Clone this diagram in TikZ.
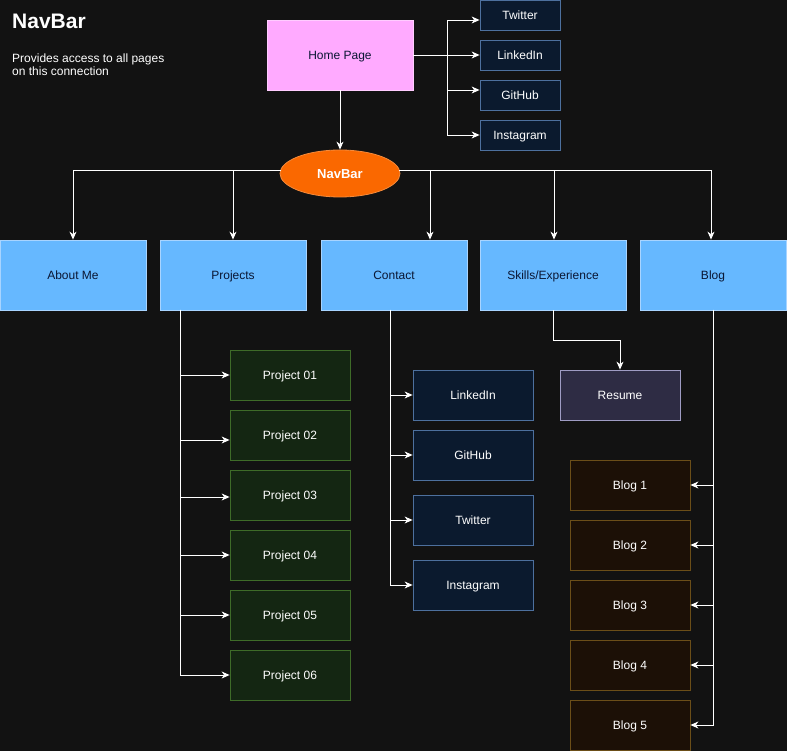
\documentclass[tikz,border=0pt]{standalone}
\usepackage{fontspec}
\setmainfont{Liberation Sans}
\usetikzlibrary{arrows.meta,shapes.geometric}
\definecolor{bg}{HTML}{121212}
\definecolor{pinkf}{HTML}{FFAAFF}
\definecolor{pinks}{HTML}{FFCCFF}
\definecolor{bluef}{HTML}{66B8FF}
\definecolor{blues}{HTML}{A8D4FF}
\definecolor{navyf}{HTML}{0B1A2E}
\definecolor{navys}{HTML}{4D709E}
\definecolor{greenf}{HTML}{142612}
\definecolor{greens}{HTML}{3E6B28}
\definecolor{brownf}{HTML}{1C1006}
\definecolor{browns}{HTML}{6B4E18}
\definecolor{purpf}{HTML}{2E2C44}
\definecolor{purps}{HTML}{9F9CC4}
\definecolor{orangef}{HTML}{FA6800}
\definecolor{oranges}{HTML}{F58A3A}
\definecolor{darktxt}{HTML}{0A1633}
\tikzset{
  box/.style={draw, line width=0.8pt, minimum width=#1, inner sep=0pt, text height=8.6pt, text depth=0pt, font=\fontsize{12}{14}\selectfont, text=white},
  box/.default=120pt,
  pinkbox/.style={box=146pt, minimum height=70pt, fill=pinkf, draw=pinks, text=darktxt},
  bluebox/.style={box=146pt, minimum height=70pt, fill=bluef, draw=blues, text=darktxt},
  smallnavy/.style={box=80pt, minimum height=30pt, fill=navyf, draw=navys},
  navy/.style={box=120pt, minimum height=50pt, fill=navyf, draw=navys},
  proj/.style={box=120pt, minimum height=50pt, fill=greenf, draw=greens},
  blogbox/.style={box=120pt, minimum height=50pt, fill=brownf, draw=browns},
  resbox/.style={box=120pt, minimum height=50pt, fill=purpf, draw=purps},
  conn/.style={draw=white, line width=0.9pt, -{Stealth[length=8pt,width=7pt,inset=2.5pt]}},
  line/.style={draw=white, line width=0.9pt},
}
\begin{document}
\begin{tikzpicture}[x=1pt,y=-1pt]
\fill[bg] (0,0) rectangle (787,751);
\useasboundingbox (0,0) rectangle (787,751);

% title
\node[anchor=west, inner sep=0pt, text=white, font=\bfseries\fontsize{21}{24}\selectfont] (title) at (12,21) {NavBar};
\node[anchor=north west, text=white, align=left, inner sep=0pt, font=\fontsize{12}{13.5}\selectfont] (sub) at (12,53.5) {Provides access to all pages\\on this connection};

% home
\node[pinkbox] (home) at (340,55) {Home Page};
\node[smallnavy] (stw) at (520,15) {Twitter};
\node[smallnavy] (sli) at (520,55) {LinkedIn};
\node[smallnavy] (sgh) at (520,95) {GitHub};
\node[smallnavy] (sig) at (520,135) {Instagram};

\coordinate (hb) at (447,55);
\draw[conn] (home.east) -- (sli.west);
\draw[conn] (hb) |- (stw.west |- 0,20);
\draw[conn] (hb) |- (sgh.west |- 0,90);
\draw[conn] (hb) |- (sig.west);

% navbar
\node[ellipse, fill=orangef, draw=oranges, line width=0.8pt, minimum width=120pt, minimum height=47pt, inner sep=0pt, text=white, text height=9.3pt, text depth=0pt, font=\bfseries\fontsize{13}{15}\selectfont] (nav) at (340,173.5) {NavBar};
\draw[conn] (home.south) -- (nav.north);

% main pages
\node[bluebox] (about) at (73,275) {About Me};
\node[bluebox] (proj) at (233,275) {Projects};
\node[bluebox] (cont) at (394,275) {Contact};
\node[bluebox] (skill) at (553,275) {Skills/Experience};
\node[bluebox] (blog) at (713,275) {Blog};

\coordinate (nl) at (281,170);
\coordinate (nr) at (399,170);
\draw[conn] (nl) -| (about.north);
\draw[conn] (nl) -| (proj.north);
\draw[conn] (nr) -| ([xshift=36pt]cont.north);
\draw[conn] (nr) -| ([xshift=1pt]skill.north);
\draw[conn] (nr) -| ([xshift=-2pt]blog.north);

% projects
\node[proj] (p1) at (290,375) {Project 01};
\node[proj] (p2) at (290,435) {Project 02};
\node[proj] (p3) at (290,495) {Project 03};
\node[proj] (p4) at (290,555) {Project 04};
\node[proj] (p5) at (290,615) {Project 05};
\node[proj] (p6) at (290,675) {Project 06};
\coordinate (pt) at (180,310);
\draw[conn] (pt) |- (p1.west);
\draw[conn] (pt) |- (p2.west |- 0,440);
\draw[conn] (pt) |- (p3.west |- 0,497);
\draw[conn] (pt) |- (p4.west);
\draw[conn] (pt) |- (p5.west);
\draw[conn] (pt) |- (p6.west);

% contact
\node[navy] (cli) at (473,395) {LinkedIn};
\node[navy] (cgh) at (473,455) {GitHub};
\node[navy] (ctw) at (473,520) {Twitter};
\node[navy] (cig) at (473,585) {Instagram};
\coordinate (ct) at (390,310);
\draw[conn] (ct) |- (cli.west);
\draw[conn] (ct) |- (cgh.west);
\draw[conn] (ct) |- (ctw.west);
\draw[conn] (ct) |- (cig.west);

% skills
\node[resbox] (res) at (620,395) {Resume};
\coordinate (sk) at (553,340);
\draw[line] (skill.south) -- (sk);
\draw[conn] (sk) -| (res.north);

% blog
\node[blogbox] (b1) at (630,485) {Blog 1};
\node[blogbox] (b2) at (630,545) {Blog 2};
\node[blogbox] (b3) at (630,605) {Blog 3};
\node[blogbox] (b4) at (630,665) {Blog 4};
\node[blogbox] (b5) at (630,725) {Blog 5};
\coordinate (bt) at (713,310);
\draw[conn] (bt) |- (b1.east);
\draw[conn] (bt) |- (b2.east);
\draw[conn] (bt) |- (b3.east);
\draw[conn] (bt) |- (b4.east);
\draw[conn] (bt) |- (b5.east);
\end{tikzpicture}
\end{document}
